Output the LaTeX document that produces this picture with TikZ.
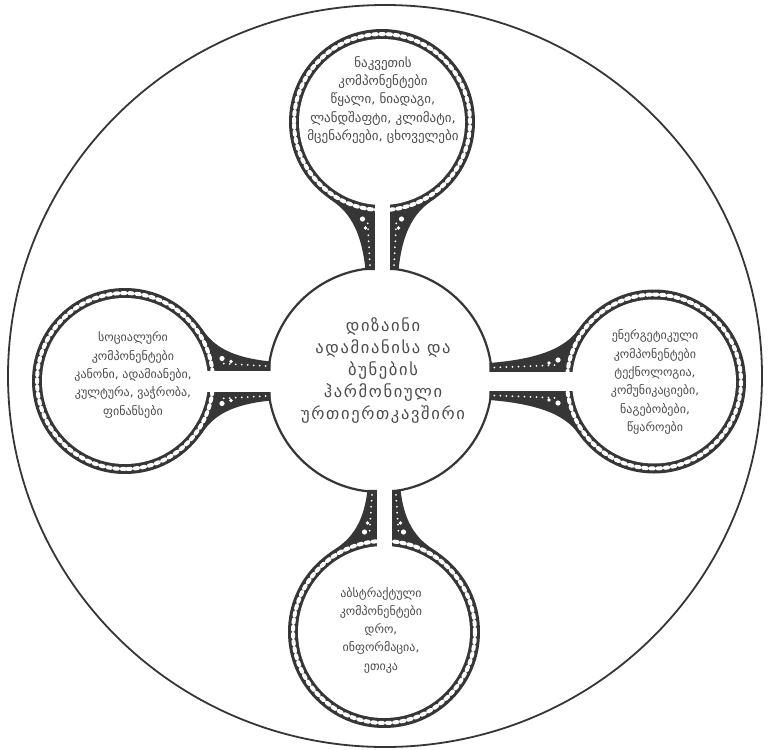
\documentclass[tikz,border=0pt]{standalone}
\usepackage{fontspec}
\setmainfont{DejaVu Sans}
\newfontfamily\geoctr[LetterSpace=10]{DejaVu Sans}
\definecolor{inkc}{HTML}{363636}
\definecolor{txtc}{HTML}{4c4c4c}
\newcommand\satunit[6]{%
 \begin{scope}[shift={(380,380)},rotate=#1,xshift=#6pt]
 \pgfmathsetmacro\uD{#2}\pgfmathsetmacro\uR{#3}\pgfmathsetmacro\uG{#4}\pgfmathsetmacro\uF{#5}
 \pgfmathsetmacro\uW{\uG+9}
 \pgfmathsetmacro\uE{sqrt(112*112-\uW*\uW)-1}
 \pgfmathsetmacro\uTx{\uR*sin(\uF)}
 \pgfmathsetmacro\uTy{\uD-\uR*cos(\uF)}
 \pgfmathsetmacro\uCy{\uE+0.7*(\uTy-\uE)}
 \pgfmathsetmacro\uKx{\uTx-16*cos(\uF)}
 \pgfmathsetmacro\uKy{\uTy-16*sin(\uF)}
 \pgfmathsetmacro\uRm{\uR-5}
 \pgfmathsetmacro\uRi{\uR-10}
 \pgfmathsetmacro\uWa{\uW+5}
 \pgfmathsetmacro\uDa{\uG+4.5}\pgfmathsetmacro\uDb{\uG+7}
 \pgfmathsetmacro\uEa{\uE+5}\pgfmathsetmacro\uEb{\uD-\uR-4}
 \pgfmathsetmacro\uBx{\uG+12}\pgfmathsetmacro\uBy{\uD-\uR-4}
 \pgfmathsetmacro\uCx{\uG+9}\pgfmathsetmacro\uCyy{\uD-\uR-13}
 \fill[inkc] (0,\uD) circle[radius=\uR];
 \fill[inkc] (0,\uE) -- (\uW,\uE) .. controls (\uWa,\uCy) and (\uKx,\uKy) .. (\uTx,\uTy) -- (0,\uD) -- cycle;
 \fill[inkc] (0,\uE) -- (-\uW,\uE) .. controls (-\uWa,\uCy) and (-\uKx,\uKy) .. (-\uTx,\uTy) -- (0,\uD) -- cycle;
 \draw[white, line width=4pt, dash pattern=on 3.2pt off 4pt, line cap=round] (0,\uD) circle[radius=\uRm];
 \draw[white, line width=2pt, dash pattern=on 0pt off 6pt, line cap=round] (\uDa,\uEa) -- (\uDb,\uEb);
 \draw[white, line width=2pt, dash pattern=on 0pt off 6pt, line cap=round] (-\uDa,\uEa) -- (-\uDb,\uEb);
 \fill[white] (\uBx,\uBy) circle[radius=2.6];
 \fill[white] (-\uBx,\uBy) circle[radius=2.6];
 \fill[white] (\uCx,\uCyy) circle[radius=1.8];
 \fill[white] (-\uCx,\uCyy) circle[radius=1.8];
 \fill[white] (0,\uD) circle[radius=\uRi];
 \fill[white] (-\uG,106) rectangle (\uG,\uD);
 \end{scope}}
\begin{document}
\begin{tikzpicture}[x=1pt,y=-1pt,
  lbl/.style={text=txtc, align=center, font=\fontsize{12}{18.3}\selectfont, inner sep=0pt},
  ctr/.style={text=txtc, align=center, font=\geoctr\fontsize{16.5}{22}\selectfont, inner sep=0pt}]
\useasboundingbox (0,0) rectangle (770,749);
\fill[white] (0,0) rectangle (770,749);
\draw[inkc, line width=1.8pt] (385,376) ellipse[x radius=377, y radius=371];
\node[circle, draw=inkc, line width=2.2pt, fill=white, minimum size=224pt, inner sep=0pt] (cen) at (380,380) {};
\satunit{180}{258}{93}{7.5}{35}{-2}
\satunit{0}{252}{96}{7.5}{35}{4}
\satunit{-90}{255}{93}{10.5}{35}{1}
\satunit{90}{274}{92}{9.5}{35}{-1.5}
\node[ctr] (tcen) at (383,371) {დიზაინი\\ადამიანისა და\\ბუნების\\ჰარმონიული\\ურთიერთკავშირი};
\node[lbl, font=\fontsize{13}{18.3}\selectfont] (ttop) at (383,100) {ნაკვეთის\\კომპონენტები\\წყალი, ნიადაგი,\\ლანდშაფტი, კლიმატი,\\მცენარეები, ცხოველები};
\node[lbl] (tleft) at (133,375) {სოციალური\\კომპონენტები\\კანონი, ადამიანები,\\კულტურა, ვაჭრობა,\\ფინანსები};
\node[lbl] (tright) at (655,382) {ენერგეტიკული\\კომპონენტები\\ტექნოლოგია,\\კომუნიკაციები,\\ნაგებობები,\\წყაროები};
\node[lbl] (tbot) at (381,630) {აბსტრაქტული\\კომპონენტები\\დრო,\\ინფორმაცია,\\ეთიკა};
\end{tikzpicture}
\end{document}
